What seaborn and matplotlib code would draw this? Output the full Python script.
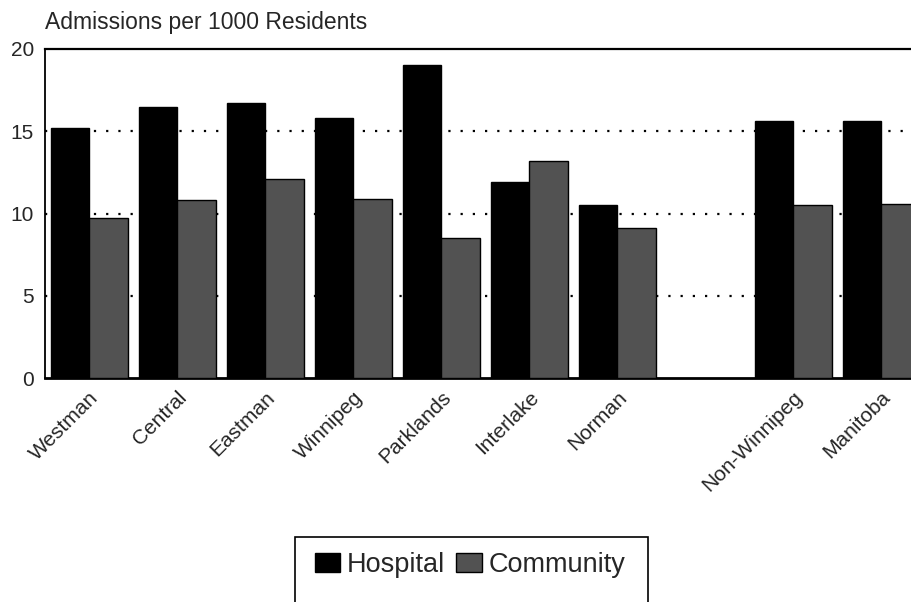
# Admissions per 1000 residents, hospital vs community, by region
import pandas as pd
import numpy as np
import matplotlib
matplotlib.use("Agg")
import matplotlib.pyplot as plt
import matplotlib.transforms as mtransforms
from matplotlib.patches import Rectangle
import seaborn as sns

# data
regions = ["Westman", "Central", "Eastman", "Winnipeg", "Parklands",
           "Interlake", "Norman", "Non-Winnipeg", "Manitoba"]
hospital = [15.2, 16.5, 16.7, 15.8, 19.0, 11.9, 10.5, 15.6, 15.6]
community = [9.7, 10.8, 12.1, 10.9, 8.5, 13.2, 9.1, 10.5, 10.6]
order = regions[:7] + [" "] + regions[7:]   # blank slot before the totals
tick_labels = [r if r.strip() else "" for r in order]

df = pd.DataFrame({
    "region": regions * 2,
    "rate": hospital + community,
    "type": ["Hospital"] * len(regions) + ["Community"] * len(regions),
})

sns.set_style("white")
plt.rcParams["font.family"] = ["Liberation Sans", "DejaVu Sans"]

fig = plt.figure(figsize=(9.12, 6.02), dpi=100)
W, H = 912, 602
ax = fig.add_axes([45 / W, (H - 378) / H, 880 / W, 329 / H])

sns.barplot(data=df, x="region", y="rate", hue="type", order=order,
            hue_order=["Hospital", "Community"],
            palette={"Hospital": "black", "Community": "#525252"},
            width=0.875, edgecolor="black", linewidth=1.0,
            errorbar=None, ax=ax, zorder=3)

ax.set_ylim(0, 20)
ax.set_xlim(-0.5, len(order) - 0.5)
ax.set_yticks([0, 5, 10, 15, 20])
ax.set_xticks(range(len(order)))
ax.set_xticklabels(tick_labels, rotation=45, ha="right", rotation_mode="anchor",
                   fontsize=15)
offset = mtransforms.ScaledTranslation(9 / 100, 0, fig.dpi_scale_trans)
for lab in ax.get_xticklabels():
    lab.set_transform(lab.get_transform() + offset)
ax.tick_params(axis="y", length=0, labelsize=15, pad=8)
ax.tick_params(axis="x", length=0, pad=7)
ax.set_xlabel("")
ax.set_ylabel("")

# dotted grid lines
for yv in [5, 10, 15]:
    ax.axhline(yv, color="black", lw=1.6, linestyle=(0, (1, 4.5)), zorder=1)

for side in ["left", "top", "bottom", "right"]:
    ax.spines[side].set_color("black")
ax.spines["left"].set_linewidth(1.3)
ax.spines["top"].set_linewidth(1.6)
ax.spines["bottom"].set_linewidth(2.0)

fig.text(45 / W, 1 - 23 / H, "Admissions per 1000 Residents", fontsize=16.5,
         va="center", ha="left")

# legend below, boxed
ax.get_legend().remove()
handles = [Rectangle((0, 0), 1, 1, facecolor="black", edgecolor="black"),
           Rectangle((0, 0), 1, 1, facecolor="#525252", edgecolor="black")]
fig.legend(handles, ["Hospital", "Community"], loc="center",
           bbox_to_anchor=(470 / W, 1 - 565 / H), ncol=2, frameon=False,
           fontsize=19.5, handlelength=0.95, handleheight=0.7,
           handletextpad=0.25, columnspacing=0.4)
fig.patches.append(Rectangle((295 / W, -0.02), (648 - 295) / W,
                             (H - 537) / H + 0.02, transform=fig.transFigure,
                             fill=False, edgecolor="black", lw=1.2))

fig.savefig("out.png", dpi=100)
